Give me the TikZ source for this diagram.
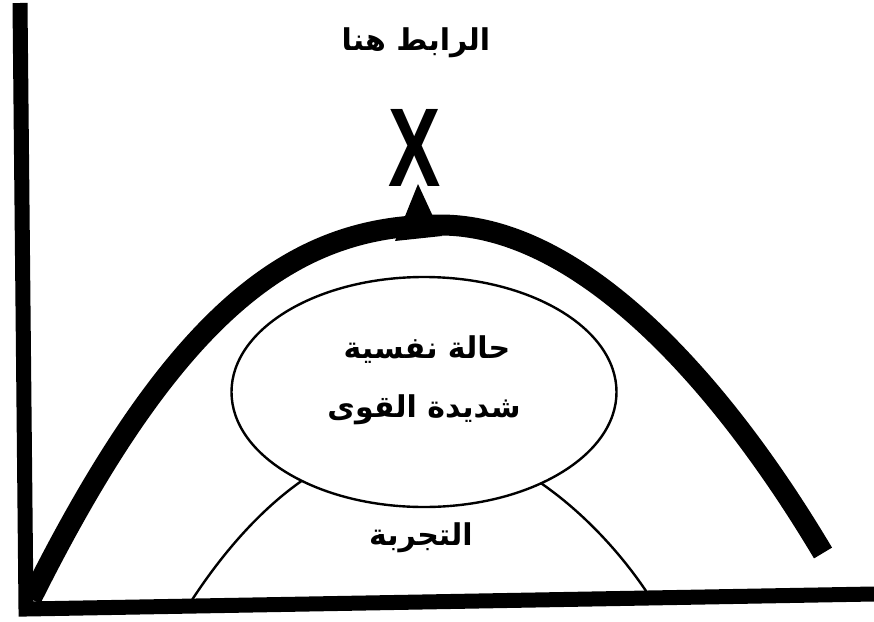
\documentclass[tikz,border=0pt]{standalone}
\usepackage{fontspec}
\usepackage{pdfrender}
\setmainfont{Liberation Sans}
\newfontfamily\arabicfont[Script=Arabic]{DejaVu Sans}
\TeXXeTstate=1
\usetikzlibrary{shapes.geometric, positioning}

\begin{document}
\begin{tikzpicture}[
    x=1pt, y=-1pt,
    axisline/.style={line width=15pt},
    bigarc/.style={line width=21pt},
    archline/.style={line width=2.4pt},
    word/.style={inner sep=0pt, font=\arabicfont\bfseries\fontsize{30}{36}\selectfont}
  ]
  \useasboundingbox (0,0) rectangle (874,621);

  % قوس التجربة
  \draw[archline] (190,603) .. controls (250,510) and (330,440) .. (420,440)
        .. controls (510,440) and (600,520) .. (650,597);

  % الحالة النفسية
  \node[ellipse, draw, archline, fill=white, minimum width=385pt, minimum height=230pt] (hala) at (424,392) {};

  % المنحنى الكبير
  \draw[bigarc] (31,599) .. controls (180,300) and (300,225) .. (440,225)
        .. controls (580,225) and (720,380) .. (823,553);

  % المحوران
  \draw[axisline] (20,3) -- (26,609) -- (874,594);

  % رأس السهم والعلامة
  \fill (418,184) -- (395,241) -- (442,236) -- cycle;
  \node[inner sep=0pt, font=\bfseries\fontsize{112}{112}\selectfont] (mark) at (415,148)
    {\scalebox{0.7}[1]{\textpdfrender{TextRenderingMode=2, LineWidth=7pt}{X}}};

  % النصوص
  \node[word] (title) at (416,43) {\beginR الرابط هنا\endR};
  \node[word] (hala1) at (427,350) {\beginR حالة نفسية\endR};
  \node[word] (hala2) at (424,410) {\beginR شديدة القوى\endR};
  \node[word] (tajriba) at (421,538) {\beginR التجربة\endR};

\end{tikzpicture}
\end{document}
